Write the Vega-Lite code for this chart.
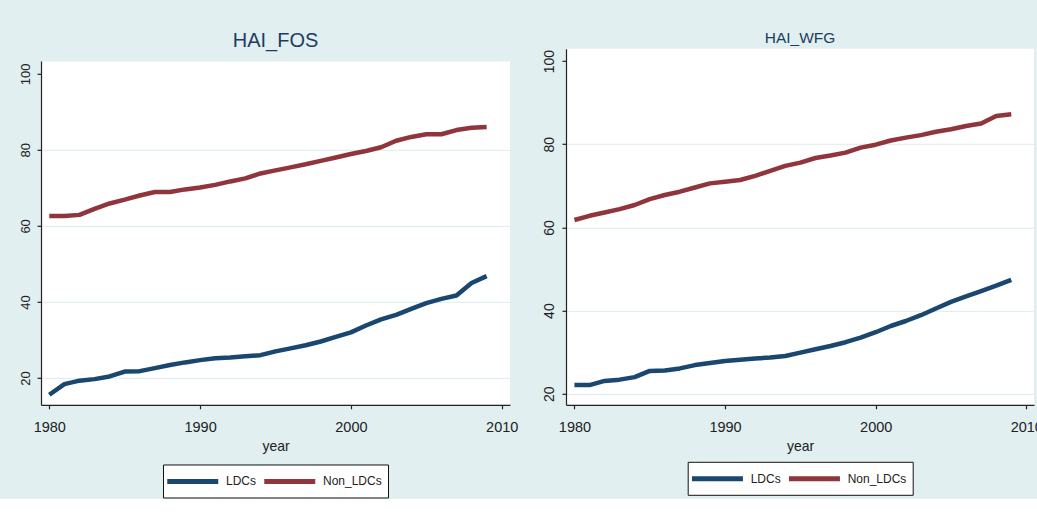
{
  "$schema": "https://vega.github.io/schema/vega-lite/v6.json",
  "background": "#e1eff0",
  "padding": {"left": 19, "top": 30.8, "right": 0, "bottom": 0},
  "spacing": 25,
  "datasets": {
    "fos": [
      {"year":1980,"group":"LDCs","value":15.6},{"year":1981,"group":"LDCs","value":18.4},{"year":1982,"group":"LDCs","value":19.3},{"year":1983,"group":"LDCs","value":19.7},{"year":1984,"group":"LDCs","value":20.4},{"year":1985,"group":"LDCs","value":21.7},{"year":1986,"group":"LDCs","value":21.8},{"year":1987,"group":"LDCs","value":22.6},{"year":1988,"group":"LDCs","value":23.4},{"year":1989,"group":"LDCs","value":24.1},
      {"year":1990,"group":"LDCs","value":24.7},{"year":1991,"group":"LDCs","value":25.2},{"year":1992,"group":"LDCs","value":25.4},{"year":1993,"group":"LDCs","value":25.7},{"year":1994,"group":"LDCs","value":26.0},{"year":1995,"group":"LDCs","value":27.0},{"year":1996,"group":"LDCs","value":27.8},{"year":1997,"group":"LDCs","value":28.6},{"year":1998,"group":"LDCs","value":29.6},{"year":1999,"group":"LDCs","value":30.8},
      {"year":2000,"group":"LDCs","value":32.0},{"year":2001,"group":"LDCs","value":33.8},{"year":2002,"group":"LDCs","value":35.4},{"year":2003,"group":"LDCs","value":36.6},{"year":2004,"group":"LDCs","value":38.2},{"year":2005,"group":"LDCs","value":39.7},{"year":2006,"group":"LDCs","value":40.8},{"year":2007,"group":"LDCs","value":41.7},{"year":2008,"group":"LDCs","value":45.0},{"year":2009,"group":"LDCs","value":46.8},
      {"year":1980,"group":"Non_LDCs","value":62.6},{"year":1981,"group":"Non_LDCs","value":62.6},{"year":1982,"group":"Non_LDCs","value":62.9},{"year":1983,"group":"Non_LDCs","value":64.5},{"year":1984,"group":"Non_LDCs","value":65.9},{"year":1985,"group":"Non_LDCs","value":66.9},{"year":1986,"group":"Non_LDCs","value":68.0},{"year":1987,"group":"Non_LDCs","value":68.9},{"year":1988,"group":"Non_LDCs","value":68.9},{"year":1989,"group":"Non_LDCs","value":69.6},
      {"year":1990,"group":"Non_LDCs","value":70.1},{"year":1991,"group":"Non_LDCs","value":70.8},{"year":1992,"group":"Non_LDCs","value":71.7},{"year":1993,"group":"Non_LDCs","value":72.5},{"year":1994,"group":"Non_LDCs","value":73.8},{"year":1995,"group":"Non_LDCs","value":74.6},{"year":1996,"group":"Non_LDCs","value":75.4},{"year":1997,"group":"Non_LDCs","value":76.2},{"year":1998,"group":"Non_LDCs","value":77.1},{"year":1999,"group":"Non_LDCs","value":78.0},
      {"year":2000,"group":"Non_LDCs","value":78.9},{"year":2001,"group":"Non_LDCs","value":79.7},{"year":2002,"group":"Non_LDCs","value":80.7},{"year":2003,"group":"Non_LDCs","value":82.4},{"year":2004,"group":"Non_LDCs","value":83.4},{"year":2005,"group":"Non_LDCs","value":84.1},{"year":2006,"group":"Non_LDCs","value":84.1},{"year":2007,"group":"Non_LDCs","value":85.2},{"year":2008,"group":"Non_LDCs","value":85.8},{"year":2009,"group":"Non_LDCs","value":86.0}
    ],
    "wfg": [
      {"year":1980,"group":"LDCs","value":22.1},{"year":1981,"group":"LDCs","value":22.1},{"year":1982,"group":"LDCs","value":23.1},{"year":1983,"group":"LDCs","value":23.4},{"year":1984,"group":"LDCs","value":24.0},{"year":1985,"group":"LDCs","value":25.5},{"year":1986,"group":"LDCs","value":25.6},{"year":1987,"group":"LDCs","value":26.1},{"year":1988,"group":"LDCs","value":26.9},{"year":1989,"group":"LDCs","value":27.4},
      {"year":1990,"group":"LDCs","value":27.9},{"year":1991,"group":"LDCs","value":28.2},{"year":1992,"group":"LDCs","value":28.5},{"year":1993,"group":"LDCs","value":28.7},{"year":1994,"group":"LDCs","value":29.1},{"year":1995,"group":"LDCs","value":29.9},{"year":1996,"group":"LDCs","value":30.7},{"year":1997,"group":"LDCs","value":31.5},{"year":1998,"group":"LDCs","value":32.4},{"year":1999,"group":"LDCs","value":33.5},
      {"year":2000,"group":"LDCs","value":34.8},{"year":2001,"group":"LDCs","value":36.3},{"year":2002,"group":"LDCs","value":37.5},{"year":2003,"group":"LDCs","value":38.9},{"year":2004,"group":"LDCs","value":40.5},{"year":2005,"group":"LDCs","value":42.1},{"year":2006,"group":"LDCs","value":43.4},{"year":2007,"group":"LDCs","value":44.7},{"year":2008,"group":"LDCs","value":46.0},{"year":2009,"group":"LDCs","value":47.4},
      {"year":1980,"group":"Non_LDCs","value":61.8},{"year":1981,"group":"Non_LDCs","value":62.8},{"year":1982,"group":"Non_LDCs","value":63.6},{"year":1983,"group":"Non_LDCs","value":64.4},{"year":1984,"group":"Non_LDCs","value":65.4},{"year":1985,"group":"Non_LDCs","value":66.8},{"year":1986,"group":"Non_LDCs","value":67.8},{"year":1987,"group":"Non_LDCs","value":68.6},{"year":1988,"group":"Non_LDCs","value":69.6},{"year":1989,"group":"Non_LDCs","value":70.6},
      {"year":1990,"group":"Non_LDCs","value":71.0},{"year":1991,"group":"Non_LDCs","value":71.4},{"year":1992,"group":"Non_LDCs","value":72.4},{"year":1993,"group":"Non_LDCs","value":73.6},{"year":1994,"group":"Non_LDCs","value":74.8},{"year":1995,"group":"Non_LDCs","value":75.6},{"year":1996,"group":"Non_LDCs","value":76.7},{"year":1997,"group":"Non_LDCs","value":77.3},{"year":1998,"group":"Non_LDCs","value":78.0},{"year":1999,"group":"Non_LDCs","value":79.2},
      {"year":2000,"group":"Non_LDCs","value":79.9},{"year":2001,"group":"Non_LDCs","value":80.9},{"year":2002,"group":"Non_LDCs","value":81.6},{"year":2003,"group":"Non_LDCs","value":82.2},{"year":2004,"group":"Non_LDCs","value":83.0},{"year":2005,"group":"Non_LDCs","value":83.6},{"year":2006,"group":"Non_LDCs","value":84.4},{"year":2007,"group":"Non_LDCs","value":85.0},{"year":2008,"group":"Non_LDCs","value":86.8},{"year":2009,"group":"Non_LDCs","value":87.2}
    ]
  },
  "hconcat": [
    {
      "width": 469,
      "height": 356,
      "title": {"text": "HAI_FOS", "fontSize": 20, "offset": -20.2, "baseline": "alphabetic", "frame": "group"},
      "layer": [
        {
          "data": {"name": "fos"},
          "mark": {"type": "line", "strokeWidth": 4.5, "strokeJoin": "round"},
          "encoding": {
            "x": {"field": "year", "type": "quantitative", "title": "year",
                  "scale": {"domain": [1979.45, 2010.55], "nice": false, "zero": false},
                  "axis": {"values": [1980, 1990, 2000, 2010], "format": "d"}},
            "y": {"field": "value", "type": "quantitative", "title": null,
                  "scale": {"domain": [12.95, 106.58], "nice": false, "zero": false},
                  "axis": {"values": [20, 40, 60, 80, 100], "labelFontSize": 13}},
            "color": {"field": "group", "type": "nominal",
                      "scale": {"domain": ["LDCs", "Non_LDCs"], "range": ["#1a476f", "#90353b"]},
                      "legend": {"orient": "none", "legendX": 122, "legendY": 415.7, "direction": "horizontal", "title": null}}
          }
        },
        {
          "data": {"values": [{}]},
          "mark": {"type": "rect", "fill": "#e1eff0"},
          "encoding": {
            "x": {"datum": 1979.36, "type": "quantitative", "title": null,
                  "scale": {"domain": [1979.45, 2010.55], "nice": false, "zero": false}},
            "x2": {"datum": 2010.6},
            "y": {"datum": 103.24, "type": "quantitative", "title": null,
                  "scale": {"domain": [12.95, 106.58], "nice": false, "zero": false}},
            "y2": {"datum": 107}
          }
        }
      ]
    },
    {
      "data": {"name": "wfg"},
      "width": 468,
      "height": 356,
      "title": {"text": "HAI_WFG", "fontSize": 15.5, "offset": -9.6, "baseline": "alphabetic", "frame": "group"},
      "mark": {"type": "line", "strokeWidth": 4.5, "strokeJoin": "round"},
      "encoding": {
        "x": {"field": "year", "type": "quantitative", "title": "year",
              "scale": {"domain": [1979.44, 2010.51], "nice": false, "zero": false},
              "axis": {"values": [1980, 1990, 2000, 2010], "format": "d"}},
        "y": {"field": "value", "type": "quantitative", "title": null,
              "scale": {"domain": [17.35, 102.96], "nice": false, "zero": false},
              "axis": {"values": [20, 40, 60, 80, 100], "labelFontSize": 14}},
        "color": {"field": "group", "type": "nominal",
                  "scale": {"domain": ["LDCs", "Non_LDCs"], "range": ["#1a476f", "#90353b"]},
                  "legend": {"orient": "none", "legendX": 121.7, "legendY": 413, "direction": "horizontal", "title": null}}
      }
    }
  ],
  "resolve": {"scale": {"color": "independent"}, "legend": {"color": "independent"}},
  "config": {
    "font": "Liberation Sans",
    "view": {"stroke": null, "fill": "white"},
    "title": {"color": "#1c3d5e", "font": "Liberation Sans", "fontWeight": "normal", "anchor": "middle"},
    "axis": {
      "domainColor": "#222", "domainWidth": 1.2, "tickColor": "#222", "tickSize": 4, "tickWidth": 1.2,
      "labelColor": "#222", "titleColor": "#222", "grid": false,
      "labelFont": "Liberation Sans", "titleFont": "Liberation Sans", "titleFontWeight": "normal"
    },
    "axisX": {"labelFontSize": 14.5, "labelPadding": 11.5, "labelFlush": false,
              "titleFontSize": 14, "titlePadding": 5.5},
    "axisY": {"labelAngle": -90, "labelAlign": "center", "labelBaseline": "bottom",
              "labelPadding": 5, "grid": true, "gridColor": "#e4eff0", "gridWidth": 1.3,
              "gridOpacity": {"condition": {"test": "datum.value >= 100", "value": 0}, "value": 1}},
    "legend": {
      "fillColor": "white", "strokeColor": "#111", "padding": 6, "cornerRadius": 0,
      "symbolType": "M-1.5,0H4.5", "symbolSize": 289, "symbolStrokeWidth": 5,
      "labelFont": "Liberation Sans", "labelFontSize": 12, "labelColor": "#222",
      "columnPadding": -3, "labelOffset": 35
    }
  }
}
